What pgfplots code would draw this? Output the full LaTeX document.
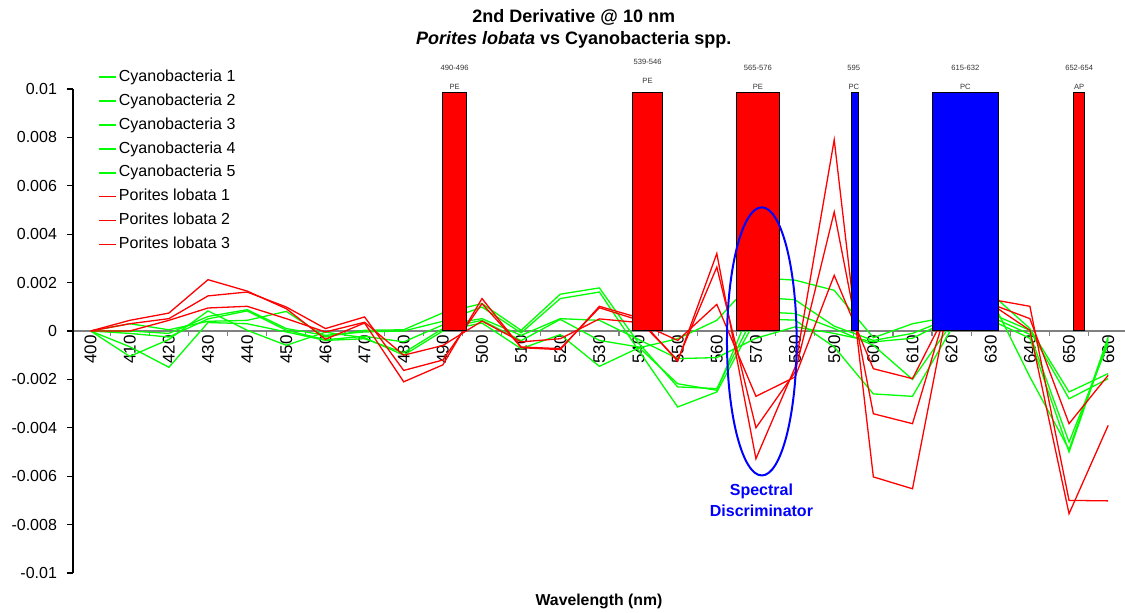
\documentclass[border=0pt]{standalone}
\usepackage{fontspec}
\setmainfont{Liberation Sans}
\usepackage{pgfplots}
\pgfplotsset{compat=1.18}
\definecolor{cgreen}{RGB}{0,255,0}
\definecolor{cred}{RGB}{255,0,0}
\definecolor{cblue}{RGB}{0,0,255}
\begin{document}
\begin{tikzpicture}
\path[use as bounding box] (-36.5pt,-20pt) rectangle (526pt,286.5pt);
\begin{axis}[
  scale only axis, width=526pt, height=242pt,
  xmin=395.5, xmax=664.3, ymin=-0.01, ymax=0.01,
  axis x line=middle, axis y line=left,
  axis line style={-},
  x axis line style={draw=gray, line width=0.6pt},
  y axis line style={draw=black, line width=0.6pt},
  clip=false,
  /pgf/number format/assume math mode=true,
  xtick={400,410,...,660},
  minor xtick={405,415,...,655},
  major x tick style={draw=none},
  minor x tick style={draw=gray, line width=0.6pt},
  minor tick length=2.6pt,
  xtick align=outside,
  xticklabel style={rotate=90, anchor=east, font=\fontsize{8.5}{9}\selectfont, inner sep=1pt, xshift=2pt},
  ytick={-0.01,-0.008,-0.006,-0.004,-0.002,0,0.002,0.004,0.006,0.008,0.01},
  yticklabels={-0.01,-0.008,-0.006,-0.004,-0.002,0,0.002,0.004,0.006,0.008,0.01},
  scaled y ticks=false,
  ytick align=outside,
  major tick length=3pt,
  y tick style={draw=black, line width=0.6pt},
  yticklabel style={font=\fontsize{8}{9}\selectfont, xshift=-1.5pt},
  legend style={draw=none, fill=none, at={(axis description cs:0.0238,1.0455)}, anchor=north west,
    font=\fontsize{8}{9}\selectfont, row sep=2.15pt, inner sep=0pt,
    nodes={inner sep=1pt, text height=6pt, text depth=1.8pt}},
  legend cell align=left,
  legend image code/.code={\draw[line width=0.75pt] (0pt,0pt) -- (8.5pt,0pt);},
  every axis plot/.append style={line width=0.65pt},
]
% Cyanobacteria
\addplot[cgreen] coordinates {(400,0)(410,0.0003)(420,0.00005)(430,0.0004)(440,0.00044)(450,0.00081)(460,-0.00025)(470,0.00003)(480,0.00005)(490,0.00075)(500,0.00113)(510,0.00003)(520,0.00152)(530,0.00178)(540,-0.0005)(550,-0.00231)(560,-0.00238)(570,0.0008)(580,0.00072)(590,0.0001)(600,-0.00059)(610,-0.002)(620,0.0003)(630,0.00059)(640,-0.00014)(650,-0.00459)(660,-0.00052)};
\addlegendentry{Cyanobacteria 1}
\addplot[cgreen] coordinates {(400,0)(410,0)(420,-0.0001)(430,0.0006)(440,0.00088)(450,0.0001)(460,-0.00018)(470,-0.00004)(480,0)(490,0.0004)(500,0.00099)(510,-0.00008)(520,0.00134)(530,0.00161)(540,-0.0008)(550,-0.00314)(560,-0.00252)(570,0.0005)(580,0.00045)(590,-0.00066)(600,-0.0026)(610,-0.0027)(620,0.0001)(630,0.00045)(640,-0.0003)(650,-0.005)(660,-0.00035)};
\addlegendentry{Cyanobacteria 2}
\addplot[cgreen] coordinates {(400,0)(410,-0.0001)(420,-0.00025)(430,0.0005)(440,0.00083)(450,0.00003)(460,-0.00036)(470,-0.00022)(480,-0.00045)(490,0.00025)(500,0.00051)(510,-0.00018)(520,0.00051)(530,0.00044)(540,-0.00035)(550,-0.00114)(560,-0.0011)(570,-0.0003)(580,0.00017)(590,-0.0001)(600,-0.00045)(610,-0.0003)(620,0.0005)(630,0.00072)(640,0.00003)(650,-0.0028)(660,-0.00197)};
\addlegendentry{Cyanobacteria 3}
\addplot[cgreen] coordinates {(400,0)(410,-0.00065)(420,-0.0015)(430,0.00035)(440,0.0003)(450,-0.00004)(460,-0.00039)(470,-0.00032)(480,-0.0009)(490,0.0001)(500,0.00044)(510,-0.0004)(520,0.00048)(530,-0.00039)(540,-0.00066)(550,-0.00218)(560,-0.00245)(570,0.0014)(580,0.00129)(590,0.0002)(600,-0.00039)(610,-0.0001)(620,0.00055)(630,0.00137)(640,-0.0019)(650,-0.0049)(660,-0.00025)};
\addlegendentry{Cyanobacteria 4}
\addplot[cgreen] coordinates {(400,0)(410,-0.00105)(420,-0.00035)(430,0.00083)(440,0.00003)(450,-0.00059)(460,-0.00005)(470,-0.00028)(480,-0.001)(490,0)(500,0.00033)(510,-0.00073)(520,-0.00015)(530,-0.00146)(540,-0.0007)(550,-0.00032)(560,0.00044)(570,0.0022)(580,0.0021)(590,0.00168)(600,-0.00028)(610,0.0003)(620,0.0006)(630,0.00156)(640,0.0001)(650,-0.00252)(660,-0.00176)};
\addlegendentry{Cyanobacteria 5}
% Porites lobata
\addplot[cred] coordinates {(400,0)(410,0.00044)(420,0.00074)(430,0.00212)(440,0.00165)(450,0.00092)(460,-0.00034)(470,0.00033)(480,-0.0021)(490,-0.0014)(500,0.00134)(510,-0.00069)(520,-0.00077)(530,0.00102)(540,0.00055)(550,-0.00125)(560,0.0032)(570,-0.00528)(580,-0.0015)(590,0.0079)(600,-0.00603)(610,-0.00652)(620,0.0018)(630,0.00112)(640,0.00003)(650,-0.00755)(660,-0.0039)};
\addlegendentry{Porites lobata 1}
\addplot[cred] coordinates {(400,0)(410,0.0003)(420,0.00051)(430,0.00145)(440,0.00161)(450,0.00099)(460,0.0001)(470,0.00058)(480,-0.00163)(490,-0.0012)(500,0.00113)(510,-0.00066)(520,-0.00073)(530,0.00096)(540,0.00045)(550,-0.0012)(560,0.00264)(570,-0.004)(580,-0.0017)(590,0.00492)(600,-0.00342)(610,-0.00383)(620,0.0016)(630,0.00131)(640,0.00102)(650,-0.007)(660,-0.00702)};
\addlegendentry{Porites lobata 2}
\addplot[cred] coordinates {(400,0)(410,0)(420,0.00044)(430,0.00095)(440,0.00102)(450,0.00051)(460,-0.00004)(470,0.00036)(480,-0.001)(490,-0.0006)(500,0.00041)(510,-0.00045)(520,-0.00032)(530,0.0005)(540,0.00035)(550,-0.00039)(560,0.0011)(570,-0.0027)(580,-0.0019)(590,0.0023)(600,-0.00156)(610,-0.00197)(620,0.0012)(630,0.00112)(640,0.00051)(650,-0.00383)(660,-0.00183)};
\addlegendentry{Porites lobata 3}
% pigment bands
\addplot[fill=cred, draw=black, line width=0.5pt, forget plot] coordinates {(490,0)(490,0.00985)(496,0.00985)(496,0)} -- cycle;
\addplot[fill=cred, draw=black, line width=0.5pt, forget plot] coordinates {(538.4,0)(538.4,0.00985)(546,0.00985)(546,0)} -- cycle;
\addplot[fill=cred, draw=black, line width=0.5pt, forget plot] coordinates {(565,0)(565,0.00985)(576,0.00985)(576,0)} -- cycle;
\addplot[fill=cblue, draw=black, line width=0.5pt, forget plot] coordinates {(594.4,0)(594.4,0.00985)(596.1,0.00985)(596.1,0)} -- cycle;
\addplot[fill=cblue, draw=black, line width=0.5pt, forget plot] coordinates {(615,0)(615,0.00985)(632,0.00985)(632,0)} -- cycle;
\addplot[fill=cred, draw=black, line width=0.5pt, forget plot] coordinates {(651.2,0)(651.2,0.00985)(654,0.00985)(654,0)} -- cycle;
% band labels
\begin{scope}[every node/.style={font=\fontsize{3.8}{4.5}\selectfont, text=black!80, inner sep=0pt}]
\node at (axis cs:493,0.01086) {490-496};
\node at (axis cs:493,0.0101) {PE};
\node at (axis cs:542.3,0.0111) {539-546};
\node at (axis cs:542.3,0.01035) {PE};
\node at (axis cs:570.5,0.01086) {565-576};
\node at (axis cs:570.5,0.0101) {PE};
\node at (axis cs:595,0.01086) {595};
\node at (axis cs:595,0.0101) {PC};
\node at (axis cs:623.5,0.01086) {615-632};
\node at (axis cs:623.5,0.0101) {PC};
\node at (axis cs:652.6,0.01086) {652-654};
\node at (axis cs:652.6,0.0101) {AP};
\end{scope}
% spectral discriminator
\draw[cblue, line width=1pt] (axis cs:571.5,-0.00043) ellipse [x radius=8.9, y radius=0.00554];
\node[font=\bfseries\fontsize{8}{10.35}\selectfont, text=cblue, align=center] at (axis cs:571.4,-0.00701) {Spectral\\Discriminator};
% titles
\node[font=\bfseries\fontsize{9}{11}\selectfont, align=center] at (axis description cs:0.476,1.1235) {2nd Derivative @ 10 nm\\\textit{Porites lobata} vs Cyanobacteria spp.};
\node[font=\bfseries\fontsize{7.9}{9}\selectfont] at (axis description cs:0.5,-0.0593) {Wavelength (nm)};
\end{axis}
\end{tikzpicture}
\end{document}
